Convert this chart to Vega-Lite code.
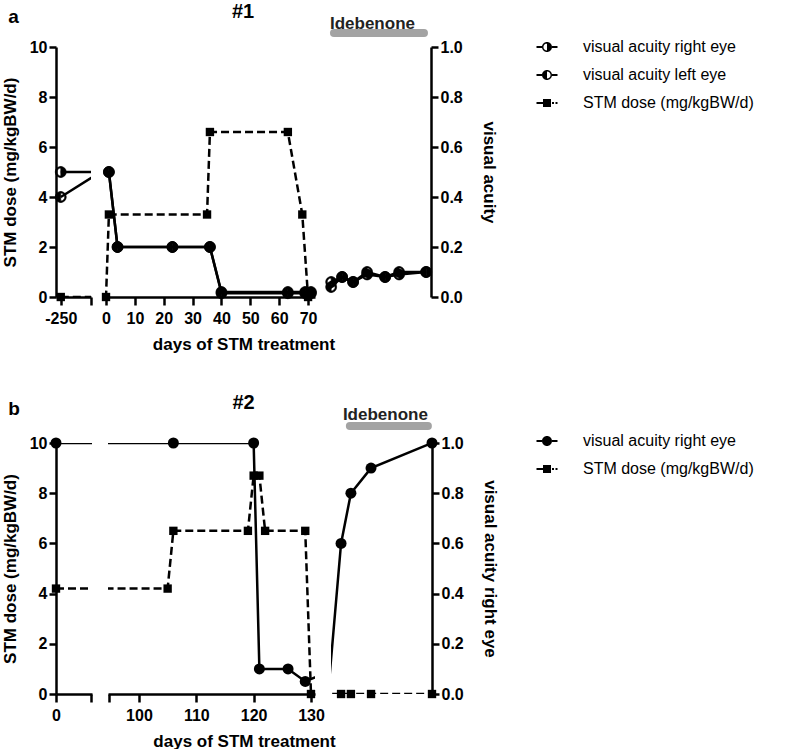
{
  "$schema": "https://vega.github.io/schema/vega-lite/v6.json",
  "background": "white",
  "padding": {"left": 1, "top": 2, "right": 5, "bottom": 0},
  "datasets": {
    "a": [
      {"series": "visual acuity left eye", "day": -250, "value": 0.4},
      {"series": "visual acuity left eye", "day": 1, "value": 0.5},
      {"series": "visual acuity left eye", "day": 4, "value": 0.2},
      {"series": "visual acuity left eye", "day": 23, "value": 0.2},
      {"series": "visual acuity left eye", "day": 36, "value": 0.2},
      {"series": "visual acuity left eye", "day": 40, "value": 0.015},
      {"series": "visual acuity left eye", "day": 63, "value": 0.015},
      {"series": "visual acuity left eye", "day": 69, "value": 0.015},
      {"series": "visual acuity left eye", "day": 71, "value": 0.015},
      {"series": "visual acuity left eye", "day": 111, "value": 0.04},
      {"series": "visual acuity left eye", "day": 197, "value": 0.08},
      {"series": "visual acuity left eye", "day": 283, "value": 0.06},
      {"series": "visual acuity left eye", "day": 393, "value": 0.1},
      {"series": "visual acuity left eye", "day": 534, "value": 0.08},
      {"series": "visual acuity left eye", "day": 644, "value": 0.1},
      {"series": "visual acuity left eye", "day": 856, "value": 0.1},
      {"series": "visual acuity right eye", "day": -250, "value": 0.5},
      {"series": "visual acuity right eye", "day": 1, "value": 0.5},
      {"series": "visual acuity right eye", "day": 4, "value": 0.2},
      {"series": "visual acuity right eye", "day": 23, "value": 0.2},
      {"series": "visual acuity right eye", "day": 36, "value": 0.2},
      {"series": "visual acuity right eye", "day": 40, "value": 0.02},
      {"series": "visual acuity right eye", "day": 63, "value": 0.02},
      {"series": "visual acuity right eye", "day": 69, "value": 0.02},
      {"series": "visual acuity right eye", "day": 71, "value": 0.02},
      {"series": "visual acuity right eye", "day": 111, "value": 0.06},
      {"series": "visual acuity right eye", "day": 197, "value": 0.08},
      {"series": "visual acuity right eye", "day": 283, "value": 0.06},
      {"series": "visual acuity right eye", "day": 393, "value": 0.09},
      {"series": "visual acuity right eye", "day": 534, "value": 0.08},
      {"series": "visual acuity right eye", "day": 644, "value": 0.09},
      {"series": "visual acuity right eye", "day": 856, "value": 0.1},
      {"series": "STM dose (mg/kgBW/d)", "day": -250, "value": 0},
      {"series": "STM dose (mg/kgBW/d)", "day": 0, "value": 0},
      {"series": "STM dose (mg/kgBW/d)", "day": 1, "value": 3.3},
      {"series": "STM dose (mg/kgBW/d)", "day": 35, "value": 3.3},
      {"series": "STM dose (mg/kgBW/d)", "day": 36, "value": 6.6},
      {"series": "STM dose (mg/kgBW/d)", "day": 63, "value": 6.6},
      {"series": "STM dose (mg/kgBW/d)", "day": 68, "value": 3.3},
      {"series": "STM dose (mg/kgBW/d)", "day": 70, "value": 0}
    ],
    "b": [
      {"series": "visual acuity right eye", "day": 0, "value": 1.0},
      {"series": "visual acuity right eye", "day": 106, "value": 1.0},
      {"series": "visual acuity right eye", "day": 120, "value": 1.0},
      {"series": "visual acuity right eye", "day": 121, "value": 0.1},
      {"series": "visual acuity right eye", "day": 126, "value": 0.1},
      {"series": "visual acuity right eye", "day": 129, "value": 0.05},
      {"series": "visual acuity right eye", "day": 187, "value": 0.6},
      {"series": "visual acuity right eye", "day": 235, "value": 0.8},
      {"series": "visual acuity right eye", "day": 333, "value": 0.9},
      {"series": "visual acuity right eye", "day": 630, "value": 1.0},
      {"series": "STM dose (mg/kgBW/d)", "day": 0, "value": 4.2},
      {"series": "STM dose (mg/kgBW/d)", "day": 105, "value": 4.2},
      {"series": "STM dose (mg/kgBW/d)", "day": 106, "value": 6.5},
      {"series": "STM dose (mg/kgBW/d)", "day": 119, "value": 6.5},
      {"series": "STM dose (mg/kgBW/d)", "day": 120, "value": 8.7},
      {"series": "STM dose (mg/kgBW/d)", "day": 121, "value": 8.7},
      {"series": "STM dose (mg/kgBW/d)", "day": 122, "value": 6.5},
      {"series": "STM dose (mg/kgBW/d)", "day": 129, "value": 6.5},
      {"series": "STM dose (mg/kgBW/d)", "day": 130, "value": 0},
      {"series": "STM dose (mg/kgBW/d)", "day": 187, "value": 0},
      {"series": "STM dose (mg/kgBW/d)", "day": 235, "value": 0},
      {"series": "STM dose (mg/kgBW/d)", "day": 333, "value": 0},
      {"series": "STM dose (mg/kgBW/d)", "day": 630, "value": 0}
    ],
    "idea": [{"label": "Idebenone", "start": 133, "end": 839}],
    "ideb": [{"label": "Idebenone", "start": 230, "end": 610}]
  },
  "vconcat": [
    {
      "spacing": 14,
      "bounds": "flush",
      "hconcat": [
        {
          "width": 35, "height": 250,
          "title": {"text": "a", "anchor": "start", "frame": "bounds", "offset": 12, "dx": 7, "fontSize": 19},
          "data": {"name": "a"},
          "encoding": {"x": {"field": "day", "type": "quantitative", "scale": {"domain": [-280, -60], "nice": false, "zero": false}, "axis": {"values": [-250, -60], "labelExpr": "datum.value == -250 ? '-250' : ''", "title": null}}},
          "layer": [
            {
              "transform": [{"filter": "datum.series == 'STM dose (mg/kgBW/d)'"}],
              "encoding": {"y": {"field": "value", "type": "quantitative", "scale": {"domain": [0, 10], "nice": false, "zero": false}, "axis": {"orient": "left", "values": [0, 2, 4, 6, 8, 10], "title": "STM dose (mg/kgBW/d)", "titlePadding": 10}}},
              "layer": [
                {"mark": {"type": "line", "clip": true, "color": "black", "strokeWidth": 2.5, "strokeDash": [8, 4]}, "encoding": {}},
                {"transform": [{"filter": "datum.day >= -280 && datum.day <= -60"}], "mark": {"type": "point", "shape": "square", "filled": true, "color": "black", "size": 70, "opacity": 1}}
              ]
            },
            {
              "transform": [{"filter": "datum.series != 'STM dose (mg/kgBW/d)'"}],
              "encoding": {"y": {"field": "value", "type": "quantitative", "scale": {"domain": [0, 1], "nice": false, "zero": false}, "axis": null}},
              "layer": [
                {"mark": {"type": "line", "clip": true, "color": "black", "strokeWidth": 2.5}, "encoding": {"detail": {"field": "series"}}},
                {"transform": [{"filter": "datum.series == 'visual acuity left eye' && datum.day >= -280 && datum.day <= -60"}],
                 "mark": {"type": "point", "filled": true, "color": "black", "stroke": "black", "strokeWidth": 0.6, "size": 121, "opacity": 1, "shape": "M0,-1A1,1 0 0,0 0,1Z M0,1A1,1 0 0,0 0,-1L0,-0.72A0.72,0.72 0 0,1 0,0.72Z"}},
                {"transform": [{"filter": "datum.series == 'visual acuity right eye' && datum.day >= -280 && datum.day <= -60"}],
                 "mark": {"type": "point", "filled": true, "color": "black", "stroke": "black", "strokeWidth": 0.6, "size": 121, "opacity": 1, "shape": "M0,-1A1,1 0 0,1 0,1Z M0,1A1,1 0 0,1 0,-1L0,-0.72A0.72,0.72 0 0,0 0,0.72Z"}}
              ]
            }
          ],
          "resolve": {"scale": {"y": "independent"}}
        },
        {
          "width": 210, "height": 250,
          "title": {"text": "#1", "anchor": "middle", "frame": "group", "offset": 25, "dx": 33, "fontSize": 20},
          "data": {"name": "a"},
          "encoding": {"x": {"field": "day", "type": "quantitative", "scale": {"domain": [-0.35, 72.4], "nice": false, "zero": false}, "axis": {"values": [0, 10, 20, 30, 40, 50, 60, 70], "title": "days of STM treatment", "titleX": 138.5, "titlePadding": 10}}},
          "layer": [
            {
              "transform": [{"filter": "datum.series == 'STM dose (mg/kgBW/d)'"}],
              "encoding": {"y": {"field": "value", "type": "quantitative", "scale": {"domain": [0, 10], "nice": false, "zero": false}, "axis": null}},
              "layer": [
                {"mark": {"type": "line", "clip": true, "color": "black", "strokeWidth": 2.5, "strokeDash": [8, 4]}, "encoding": {}},
                {"transform": [{"filter": "datum.day >= -0.35 && datum.day <= 72.4"}], "mark": {"type": "point", "shape": "square", "filled": true, "color": "black", "size": 70, "opacity": 1}}
              ]
            },
            {
              "transform": [{"filter": "datum.series != 'STM dose (mg/kgBW/d)'"}],
              "encoding": {"y": {"field": "value", "type": "quantitative", "scale": {"domain": [0, 1], "nice": false, "zero": false}, "axis": null}},
              "layer": [
                {"mark": {"type": "line", "clip": true, "color": "black", "strokeWidth": 2.5}, "encoding": {"detail": {"field": "series"}}},
                {"transform": [{"filter": "datum.series == 'visual acuity left eye' && datum.day >= -0.35 && datum.day <= 72.4"}],
                 "mark": {"type": "point", "filled": true, "color": "black", "stroke": "black", "strokeWidth": 0.6, "size": 121, "opacity": 1, "shape": "M0,-1A1,1 0 0,0 0,1Z M0,1A1,1 0 0,0 0,-1L0,-0.72A0.72,0.72 0 0,1 0,0.72Z"}},
                {"transform": [{"filter": "datum.series == 'visual acuity right eye' && datum.day >= -0.35 && datum.day <= 72.4"}],
                 "mark": {"type": "point", "filled": true, "color": "black", "stroke": "black", "strokeWidth": 0.6, "size": 121, "opacity": 1, "shape": "M0,-1A1,1 0 0,1 0,1Z M0,1A1,1 0 0,1 0,-1L0,-0.72A0.72,0.72 0 0,0 0,0.72Z"}}
              ]
            }
          ],
          "resolve": {"scale": {"y": "independent"}}
        },
        {
          "width": 102, "height": 250,
          "data": {"name": "a"},
          "encoding": {"x": {"field": "day", "type": "quantitative", "scale": {"domain": [94, 894], "nice": false, "zero": false}, "axis": {"values": [94.5, 400, 800], "labelExpr": "datum.value < 100 ? '' : datum.label", "title": null}}},
          "layer": [
            {
              "transform": [{"filter": "datum.series == 'STM dose (mg/kgBW/d)'"}],
              "encoding": {"y": {"field": "value", "type": "quantitative", "scale": {"domain": [0, 10], "nice": false, "zero": false}, "axis": null}},
              "layer": [
                {"mark": {"type": "line", "clip": true, "color": "black", "strokeWidth": 2.5, "strokeDash": [8, 4]}, "encoding": {}},
                {"transform": [{"filter": "datum.day >= 94 && datum.day <= 894"}], "mark": {"type": "point", "shape": "square", "filled": true, "color": "black", "size": 70, "opacity": 1}}
              ]
            },
            {
              "transform": [{"filter": "datum.series != 'STM dose (mg/kgBW/d)'"}],
              "encoding": {"y": {"field": "value", "type": "quantitative", "scale": {"domain": [0, 1], "nice": false, "zero": false}, "axis": {"orient": "right", "values": [0, 0.2, 0.4, 0.6, 0.8, 1], "format": ".1f", "title": "visual acuity", "titlePadding": 17}}},
              "layer": [
                {"mark": {"type": "line", "clip": true, "color": "black", "strokeWidth": 2.5}, "encoding": {"detail": {"field": "series"}}},
                {"transform": [{"filter": "datum.series == 'visual acuity left eye' && datum.day >= 94 && datum.day <= 894"}],
                 "mark": {"type": "point", "filled": true, "color": "black", "stroke": "black", "strokeWidth": 0.6, "size": 121, "opacity": 1, "shape": "M0,-1A1,1 0 0,0 0,1Z M0,1A1,1 0 0,0 0,-1L0,-0.72A0.72,0.72 0 0,1 0,0.72Z"}},
                {"transform": [{"filter": "datum.series == 'visual acuity right eye' && datum.day >= 94 && datum.day <= 894"}],
                 "mark": {"type": "point", "filled": true, "color": "black", "stroke": "black", "strokeWidth": 0.6, "size": 121, "opacity": 1, "shape": "M0,-1A1,1 0 0,1 0,1Z M0,1A1,1 0 0,1 0,-1L0,-0.72A0.72,0.72 0 0,0 0,0.72Z"}},
                {"transform": [{"filter": "datum.day >= 94 && datum.day <= 894"}],
                 "mark": {"type": "point", "filled": true, "color": "black", "size": 100, "opacity": 0},
                 "encoding": {"shape": {"field": "series", "type": "nominal",
                   "scale": {"domain": ["visual acuity right eye", "visual acuity left eye", "STM dose (mg/kgBW/d)"],
                             "range": ["M-2.1,-0.2H-1V0.2H-2.1Z M1,-0.2H2.1V0.2H1Z M0,-1A1,1 0 0,1 0,1Z M0,1A1,1 0 0,1 0,-1L0,-0.72A0.72,0.72 0 0,0 0,0.72Z",
                                       "M-2.1,-0.2H-1V0.2H-2.1Z M1,-0.2H2.1V0.2H1Z M0,-1A1,1 0 0,0 0,1Z M0,1A1,1 0 0,0 0,-1L0,-0.72A0.72,0.72 0 0,1 0,0.72Z",
                                       "M-2.1,-0.2H-0.8V0.2H-2.1Z M-0.8,-0.8H0.8V0.8H-0.8Z M1,-0.2H1.4V0.2H1Z M1.7,-0.2H2.1V0.2H1.7Z"]},
                   "legend": {"title": null, "orient": "none", "legendX": 483, "legendY": -8, "symbolOpacity": 1, "symbolFillColor": "black", "symbolStrokeColor": "black", "symbolStrokeWidth": 0.5}}}}
              ]
            },
            {
              "data": {"name": "idea"},
              "layer": [
                {"mark": {"type": "rule", "strokeWidth": 8, "strokeCap": "round", "color": "#a3a3a3"},
                 "encoding": {"x": {"field": "start", "type": "quantitative", "scale": {"domain": [94, 894], "nice": false, "zero": false}, "axis": null}, "x2": {"field": "end"}, "y": {"datum": 1.056, "type": "quantitative", "scale": {"domain": [0, 1], "nice": false, "zero": false}, "axis": null}}},
                {"mark": {"type": "text", "align": "left", "baseline": "alphabetic", "dx": -4, "font": "Liberation Sans", "fontSize": 17, "fontWeight": "bold", "color": "#222222"},
                 "encoding": {"x": {"field": "start", "type": "quantitative", "scale": {"domain": [94, 894], "nice": false, "zero": false}, "axis": null}, "y": {"datum": 1.072, "type": "quantitative", "scale": {"domain": [0, 1], "nice": false, "zero": false}, "axis": null}, "text": {"field": "label"}}}
              ]
            }
          ],
          "resolve": {"scale": {"y": "independent"}}
        }
      ]
    },
    {
      "spacing": 16,
      "bounds": "flush",
      "hconcat": [
        {
          "width": 36, "height": 251,
          "title": {"text": "b", "anchor": "start", "frame": "bounds", "offset": 16, "dx": 7, "fontSize": 19},
          "data": {"name": "b"},
          "encoding": {"x": {"field": "day", "type": "quantitative", "scale": {"domain": [0, 20.6], "nice": false, "zero": false}, "axis": {"values": [0, 20], "labelExpr": "datum.value == 0 ? '0' : ''", "title": null}}},
          "layer": [
            {
              "transform": [{"filter": "datum.series == 'STM dose (mg/kgBW/d)'"}],
              "encoding": {"y": {"field": "value", "type": "quantitative", "scale": {"domain": [0, 10], "nice": false, "zero": false}, "axis": {"orient": "left", "values": [0, 2, 4, 6, 8, 10], "title": "STM dose (mg/kgBW/d)", "titlePadding": 10}}},
              "layer": [
                {"mark": {"type": "line", "clip": true, "color": "black", "strokeWidth": 2.5, "strokeDash": [8, 4]}, "encoding": {}},
                {"transform": [{"filter": "datum.day >= 0 && datum.day <= 20.6"}], "mark": {"type": "point", "shape": "square", "filled": true, "color": "black", "size": 70, "opacity": 1}}
              ]
            },
            {
              "transform": [{"filter": "datum.series != 'STM dose (mg/kgBW/d)'"}],
              "encoding": {"y": {"field": "value", "type": "quantitative", "scale": {"domain": [0, 1], "nice": false, "zero": false}, "axis": null}},
              "layer": [
                {"mark": {"type": "line", "clip": true, "color": "black", "strokeWidth": 2.5}, "encoding": {"detail": {"field": "series"}}},
                {"transform": [{"filter": "datum.day >= 0 && datum.day <= 20.6"}], "mark": {"type": "point", "filled": true, "color": "black", "size": 121, "opacity": 1, "shape": "circle"}}
              ]
            }
          ],
          "resolve": {"scale": {"y": "independent"}}
        },
        {
          "width": 207, "height": 251,
          "title": {"text": "#2", "anchor": "middle", "frame": "group", "offset": 25, "dx": 32, "fontSize": 20},
          "data": {"name": "b"},
          "encoding": {"x": {"field": "day", "type": "quantitative", "scale": {"domain": [94.6, 130.7], "nice": false, "zero": false}, "axis": {"values": [94.8, 100, 110, 120, 130], "labelExpr": "datum.value < 99 ? '' : datum.label", "title": "days of STM treatment", "titleX": 136, "titlePadding": 10}}},
          "layer": [
            {
              "transform": [{"filter": "datum.series == 'STM dose (mg/kgBW/d)'"}],
              "encoding": {"y": {"field": "value", "type": "quantitative", "scale": {"domain": [0, 10], "nice": false, "zero": false}, "axis": null}},
              "layer": [
                {"mark": {"type": "line", "clip": true, "color": "black", "strokeWidth": 2.5, "strokeDash": [8, 4]}, "encoding": {}},
                {"transform": [{"filter": "datum.day >= 94.6 && datum.day <= 130.7"}], "mark": {"type": "point", "shape": "square", "filled": true, "color": "black", "size": 70, "opacity": 1}}
              ]
            },
            {
              "transform": [{"filter": "datum.series != 'STM dose (mg/kgBW/d)'"}],
              "encoding": {"y": {"field": "value", "type": "quantitative", "scale": {"domain": [0, 1], "nice": false, "zero": false}, "axis": null}},
              "layer": [
                {"mark": {"type": "line", "clip": true, "color": "black", "strokeWidth": 2.5}, "encoding": {"detail": {"field": "series"}}},
                {"transform": [{"filter": "datum.day >= 94.6 && datum.day <= 130.7"}], "mark": {"type": "point", "filled": true, "color": "black", "size": 121, "opacity": 1, "shape": "circle"}}
              ]
            }
          ],
          "resolve": {"scale": {"y": "independent"}}
        },
        {
          "width": 101, "height": 251,
          "data": {"name": "b"},
          "encoding": {"x": {"field": "day", "type": "quantitative", "scale": {"domain": [138, 630], "nice": false, "zero": false}, "axis": {"values": [138.5, 300, 600], "labelExpr": "datum.value < 200 ? '' : datum.label", "title": null}}},
          "layer": [
            {
              "transform": [{"filter": "datum.series == 'STM dose (mg/kgBW/d)'"}],
              "encoding": {"y": {"field": "value", "type": "quantitative", "scale": {"domain": [0, 10], "nice": false, "zero": false}, "axis": null}},
              "layer": [
                {"mark": {"type": "line", "clip": true, "color": "black", "strokeWidth": 2.5, "strokeDash": [8, 4]}, "encoding": {}},
                {"transform": [{"filter": "datum.day >= 138 && datum.day <= 630"}], "mark": {"type": "point", "shape": "square", "filled": true, "color": "black", "size": 70, "opacity": 1}}
              ]
            },
            {
              "transform": [{"filter": "datum.series != 'STM dose (mg/kgBW/d)'"}],
              "encoding": {"y": {"field": "value", "type": "quantitative", "scale": {"domain": [0, 1], "nice": false, "zero": false}, "axis": {"orient": "right", "values": [0, 0.2, 0.4, 0.6, 0.8, 1], "format": ".1f", "title": "visual acuity right eye", "titlePadding": 17}}},
              "layer": [
                {"mark": {"type": "line", "clip": true, "color": "black", "strokeWidth": 2.5}, "encoding": {"detail": {"field": "series"}}},
                {"transform": [{"filter": "datum.day >= 138 && datum.day <= 630"}], "mark": {"type": "point", "filled": true, "color": "black", "size": 121, "opacity": 1, "shape": "circle"}},
                {"transform": [{"filter": "datum.day >= 138 && datum.day <= 630"}],
                 "mark": {"type": "point", "filled": true, "color": "black", "size": 100, "opacity": 0},
                 "encoding": {"shape": {"field": "series", "type": "nominal",
                   "scale": {"domain": ["visual acuity right eye", "STM dose (mg/kgBW/d)"],
                             "range": ["M-2.1,-0.2H-1V0.2H-2.1Z M1,-0.2H2.1V0.2H1Z M1,0A1,1 0 1,1 -1,0A1,1 0 1,1 1,0Z",
                                       "M-2.1,-0.2H-0.8V0.2H-2.1Z M-0.8,-0.8H0.8V0.8H-0.8Z M1,-0.2H1.4V0.2H1Z M1.7,-0.2H2.1V0.2H1.7Z"]},
                   "legend": {"title": null, "orient": "none", "legendX": 483, "legendY": -10, "symbolOpacity": 1, "symbolFillColor": "black", "symbolStrokeColor": "black", "symbolStrokeWidth": 0.5}}}}
              ]
            },
            {
              "data": {"name": "ideb"},
              "layer": [
                {"mark": {"type": "rule", "strokeWidth": 8, "strokeCap": "round", "color": "#a3a3a3"},
                 "encoding": {"x": {"field": "start", "type": "quantitative", "scale": {"domain": [138, 630], "nice": false, "zero": false}, "axis": null}, "x2": {"field": "end"}, "y": {"datum": 1.068, "type": "quantitative", "scale": {"domain": [0, 1], "nice": false, "zero": false}, "axis": null}}},
                {"mark": {"type": "text", "align": "left", "baseline": "alphabetic", "dx": -7, "font": "Liberation Sans", "fontSize": 17, "fontWeight": "bold", "color": "#222222"},
                 "encoding": {"x": {"field": "start", "type": "quantitative", "scale": {"domain": [138, 630], "nice": false, "zero": false}, "axis": null}, "y": {"datum": 1.092, "type": "quantitative", "scale": {"domain": [0, 1], "nice": false, "zero": false}, "axis": null}, "text": {"field": "label"}}}
              ]
            }
          ],
          "resolve": {"scale": {"y": "independent"}}
        }
      ]
    }
  ],
  "spacing": 40,
  "resolve": {"scale": {"shape": "independent"}, "legend": {"shape": "independent"}},
  "config": {
    "font": "Liberation Sans",
    "view": {"stroke": null},
    "axis": {"grid": false, "domainColor": "black", "domainWidth": 2.5, "tickColor": "black", "tickWidth": 2.5, "tickSize": 7, "labelFont": "Liberation Sans", "labelFontSize": 16, "labelFontWeight": "bold", "labelColor": "black", "labelPadding": 2, "labelFlush": false, "labelOverlap": false, "labelBound": false, "titleFont": "Liberation Sans", "titleFontSize": 17, "titleFontWeight": "bold", "titleColor": "black"},
    "axisX": {"tickSize": 8, "labelPadding": 5},
    "legend": {"labelFont": "Liberation Sans", "labelFontSize": 16, "labelFontWeight": "normal", "labelColor": "black", "labelOffset": 28, "rowPadding": 12, "padding": 0, "symbolSize": 100, "labelLimit": 400},
    "title": {"font": "Liberation Sans", "fontWeight": "bold", "color": "black"}
  }
}
